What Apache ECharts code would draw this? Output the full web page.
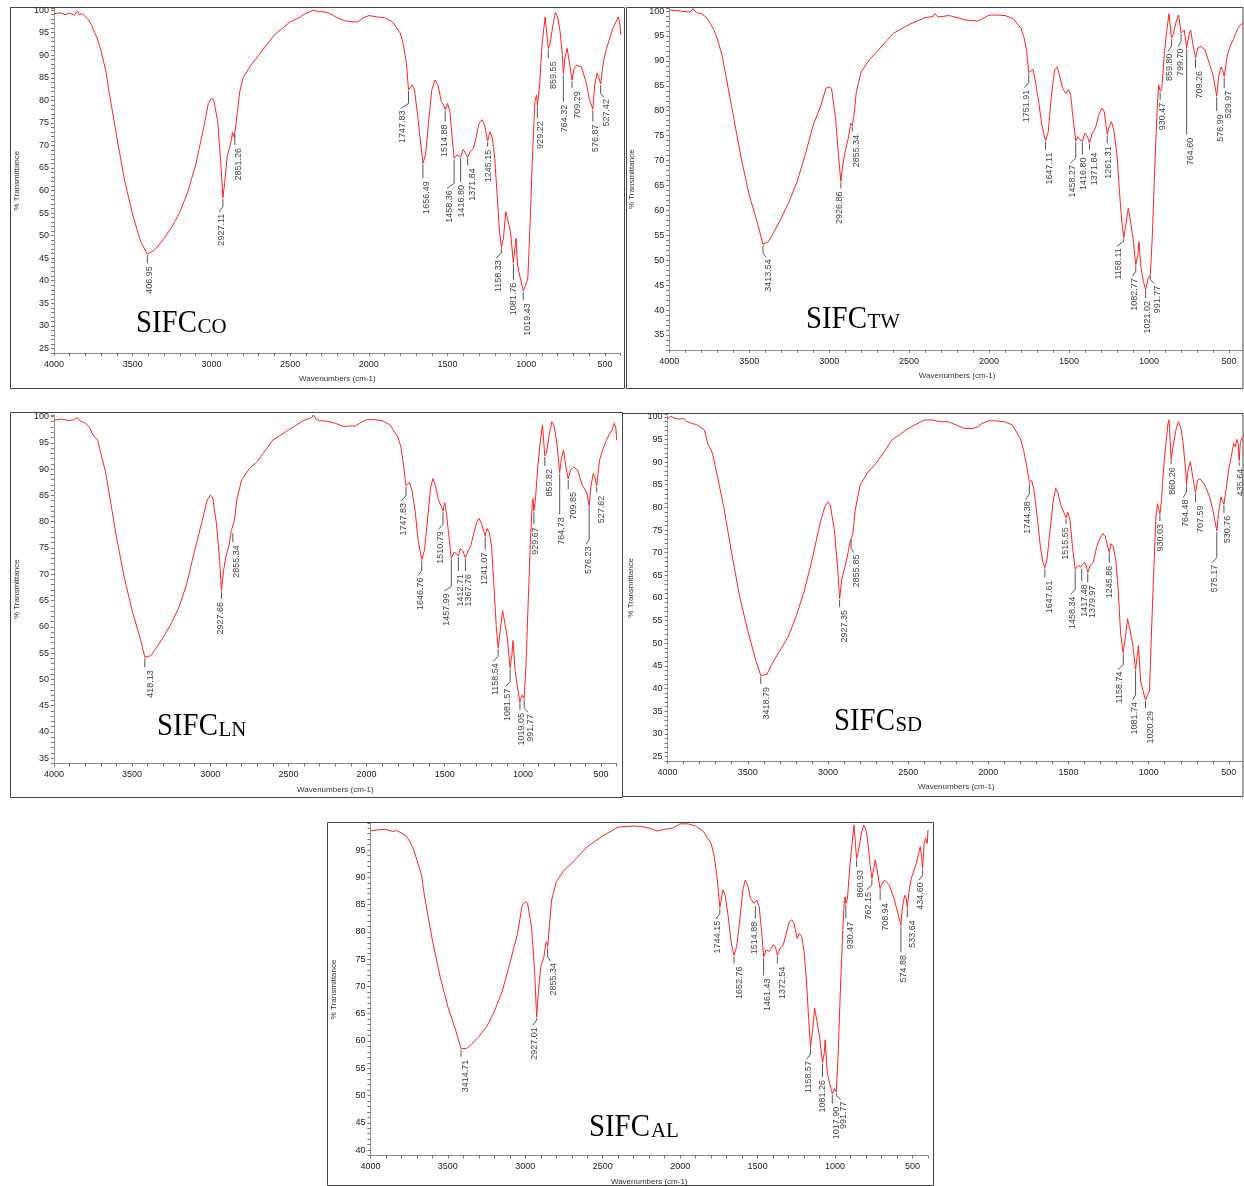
<!DOCTYPE html>
<html>
<head>
<meta charset="utf-8">
<script src="https://cdn.jsdelivr.net/npm/echarts@6.0.0/dist/echarts.min.js"></script>
<style>
  html, body { margin: 0; padding: 0; background: #fff; }
  #chart { width: 1244px; height: 1186px; }
</style>
</head>
<body>
<div id="chart"></div>
<script>
// FTIR spectra, pairs of [wavenumber (cm-1), % transmittance]
const coSpectrum = [[4000,99.2],[3960,99.4],[3930,99.0],[3900,99.3],[3870,98.9],[3850,99.8],[3840,99.0],[3820,99.2],[3800,98.5],[3780,97.8],[3760,96.6],[3750,95.6],[3730,94.2],[3700,90.8],[3670,86.4],[3650,81.9],[3600,71.6],[3550,62.0],[3500,54.6],[3450,48.7],[3407,45.9],[3370,46.6],[3350,47.2],[3300,49.4],[3250,52.0],[3200,55.3],[3150,59.7],[3100,65.7],[3050,73.8],[3020,79.3],[3000,80.4],[2985,80.1],[2960,75.3],[2940,65.7],[2927,58.4],[2915,62.0],[2900,67.5],[2880,70.1],[2865,72.9],[2855,71.8],[2845,74.5],[2820,81.9],[2800,84.9],[2750,87.8],[2700,90.0],[2600,94.5],[2500,97.4],[2450,98.2],[2400,99.3],[2350,100.0],[2340,100.4],[2320,99.6],[2300,99.7],[2250,99.3],[2200,98.3],[2150,97.6],[2100,97.4],[2070,97.4],[2040,98.2],[2000,98.8],[1950,98.5],[1900,98.3],[1850,97.4],[1800,94.9],[1780,92.3],[1760,87.8],[1748,82.3],[1740,82.6],[1725,83.4],[1710,82.3],[1690,76.7],[1670,70.1],[1656,66.0],[1640,67.9],[1620,75.3],[1600,82.3],[1580,84.5],[1560,83.4],[1540,79.7],[1525,79.0],[1515,77.9],[1500,79.3],[1485,77.5],[1470,71.6],[1458,67.1],[1440,67.9],[1417,67.5],[1400,69.1],[1385,68.2],[1372,67.4],[1355,68.6],[1335,69.4],[1320,71.6],[1300,74.9],[1280,75.7],[1265,74.5],[1245,71.0],[1230,73.0],[1215,71.6],[1200,67.1],[1185,59.0],[1170,50.9],[1158,47.4],[1145,49.4],[1130,55.3],[1120,55.0],[1100,50.9],[1082,44.0],[1070,47.9],[1065,49.4],[1055,43.5],[1040,40.9],[1019,37.7],[1005,39.0],[990,40.5],[975,53.1],[960,67.9],[945,79.7],[935,81.2],[929,78.8],[915,83.4],[900,92.3],[880,98.5],[870,98.9],[860,91.5],[850,92.3],[830,96.7],[815,99.5],[800,98.5],[785,95.2],[770,90.0],[764,85.8],[755,89.3],[740,91.5],[725,88.2],[709,84.5],[695,87.1],[680,87.8],[650,87.4],[620,84.1],[600,80.4],[590,80.4],[577,78.0],[565,83.4],[550,86.0],[540,85.2],[527,83.6],[510,88.6],[490,91.5],[470,93.7],[450,95.9],[430,97.4],[415,98.5],[405,96.9],[400,94.5]];
const twSpectrum = [[4000,100.2],[3950,100.1],[3900,99.9],[3870,99.8],[3850,100.5],[3830,99.7],[3800,99.5],[3770,98.8],[3750,97.9],[3720,96.2],[3700,94.5],[3670,91.2],[3650,87.8],[3600,79.1],[3550,70.5],[3500,63.1],[3450,57.7],[3414,53.2],[3380,53.7],[3350,55.4],[3300,58.4],[3250,61.8],[3200,65.8],[3150,71.1],[3100,77.1],[3050,81.2],[3020,84.5],[3000,84.8],[2985,84.5],[2960,78.5],[2940,70.5],[2927,65.8],[2915,69.1],[2900,71.8],[2880,74.5],[2865,77.5],[2855,77.0],[2845,79.1],[2830,83.8],[2800,87.8],[2750,90.2],[2700,91.9],[2600,95.5],[2500,97.3],[2400,98.7],[2350,98.9],[2340,99.5],[2320,98.8],[2300,98.9],[2250,99.1],[2200,98.7],[2150,98.2],[2100,98.1],[2070,98.0],[2040,98.5],[2000,99.2],[1950,99.2],[1900,99.1],[1850,98.5],[1800,96.5],[1780,94.5],[1765,91.9],[1752,87.6],[1740,88.0],[1725,88.3],[1710,85.8],[1690,81.8],[1670,77.1],[1647,73.9],[1630,75.8],[1610,83.2],[1590,88.2],[1575,88.8],[1560,87.2],[1540,84.5],[1520,83.5],[1505,84.2],[1490,83.2],[1475,78.5],[1458,73.9],[1445,74.8],[1430,74.1],[1417,73.9],[1400,75.5],[1385,74.8],[1372,73.5],[1355,75.5],[1335,76.5],[1315,79.1],[1295,80.5],[1280,79.8],[1261,75.2],[1250,76.8],[1235,77.8],[1220,76.1],[1200,71.1],[1185,63.8],[1170,57.7],[1158,54.5],[1145,57.1],[1130,60.4],[1115,57.7],[1100,54.4],[1083,49.1],[1070,51.0],[1063,53.7],[1050,48.4],[1035,45.7],[1021,44.1],[1005,46.4],[992,47.1],[980,54.4],[965,67.8],[950,79.8],[940,85.2],[930,83.9],[920,84.5],[905,91.2],[890,95.9],[875,99.5],[868,99.9],[860,94.6],[850,95.2],[830,97.9],[815,99.2],[800,95.6],[790,95.9],[780,96.2],[765,92.6],[750,95.2],[740,96.2],[725,93.2],[709,90.6],[695,92.6],[675,92.9],[650,92.2],[620,89.2],[600,87.2],[590,87.2],[577,82.9],[565,86.8],[550,88.8],[540,88.2],[530,86.9],[510,91.2],[490,93.2],[470,94.5],[450,96.2],[430,97.2],[415,97.5],[400,97.8]];
const lnSpectrum = [[4000,99.3],[3950,99.5],[3900,99.2],[3870,99.4],[3850,99.8],[3830,99.1],[3800,98.8],[3770,97.8],[3750,96.5],[3720,95.5],[3700,93.0],[3670,89.5],[3650,86.0],[3600,77.1],[3550,69.4],[3500,63.1],[3450,58.0],[3418,54.2],[3380,54.5],[3350,55.8],[3300,58.0],[3250,60.6],[3200,63.7],[3150,68.2],[3100,74.5],[3050,80.3],[3020,84.1],[3000,85.0],[2985,84.7],[2960,79.6],[2940,72.6],[2928,66.9],[2915,70.7],[2900,73.3],[2880,75.5],[2865,78.3],[2855,78.0],[2845,80.3],[2830,84.1],[2800,87.9],[2750,90.1],[2700,91.4],[2600,95.5],[2500,97.4],[2400,99.3],[2350,99.8],[2340,100.3],[2320,99.4],[2300,99.2],[2250,99.1],[2200,98.7],[2150,98.1],[2100,98.2],[2070,98.2],[2040,98.8],[2000,99.4],[1950,99.4],[1900,99.2],[1850,98.4],[1800,96.1],[1780,94.2],[1765,91.1],[1748,86.9],[1740,87.0],[1725,87.4],[1710,86.0],[1690,82.2],[1670,76.4],[1647,72.8],[1630,74.5],[1610,80.3],[1590,86.6],[1575,88.2],[1560,86.9],[1540,84.1],[1520,82.8],[1511,82.0],[1500,83.6],[1490,81.8],[1475,77.7],[1458,73.1],[1440,74.2],[1425,73.9],[1413,73.5],[1400,74.9],[1385,74.5],[1368,73.1],[1350,74.5],[1335,75.2],[1315,77.7],[1295,79.9],[1280,80.6],[1265,79.6],[1241,77.3],[1230,78.7],[1215,78.0],[1200,75.2],[1185,67.5],[1170,59.9],[1158,56.0],[1145,59.3],[1130,63.1],[1115,60.6],[1100,58.0],[1082,52.2],[1070,54.8],[1063,57.4],[1050,51.7],[1035,48.5],[1019,45.7],[1005,47.0],[992,46.4],[980,52.9],[965,65.6],[950,77.7],[940,83.4],[935,84.4],[930,82.0],[920,84.1],[905,90.4],[890,94.9],[875,98.4],[868,98.7],[860,92.5],[850,93.0],[830,96.8],[815,99.0],[800,98.1],[785,95.5],[770,91.1],[765,89.3],[755,91.7],[740,93.6],[725,90.4],[710,88.1],[695,89.8],[675,90.4],[650,89.8],[620,86.9],[600,86.0],[590,85.3],[576,83.0],[565,86.6],[550,89.2],[540,88.5],[528,86.8],[510,91.7],[490,93.6],[470,95.2],[450,96.5],[430,97.4],[415,98.7],[405,97.7],[400,95.5]];
const sdSpectrum = [[4000,99.6],[3980,100.1],[3960,99.7],[3950,100.0],[3930,99.5],[3900,99.6],[3880,99.0],[3850,98.5],[3820,98.3],[3800,97.8],[3770,97.1],[3750,94.1],[3720,91.9],[3700,88.6],[3680,85.3],[3650,80.1],[3600,69.8],[3550,60.2],[3500,52.8],[3450,46.2],[3419,42.9],[3400,43.0],[3380,43.2],[3350,45.4],[3300,48.4],[3250,51.3],[3200,55.8],[3150,61.3],[3100,68.3],[3050,76.4],[3020,80.1],[3000,81.2],[2985,80.5],[2960,74.9],[2940,66.8],[2927,59.8],[2915,63.9],[2900,66.1],[2880,69.0],[2865,72.0],[2855,73.1],[2845,74.2],[2830,79.4],[2800,84.9],[2750,87.8],[2700,89.7],[2600,94.9],[2500,97.4],[2400,99.3],[2350,99.3],[2300,98.9],[2250,98.9],[2200,98.2],[2150,97.4],[2100,97.4],[2070,97.7],[2040,98.5],[2000,99.1],[1950,99.1],[1900,98.9],[1850,98.2],[1800,95.2],[1780,92.6],[1760,89.0],[1744,85.5],[1730,86.0],[1715,83.8],[1695,77.9],[1675,71.2],[1660,67.9],[1648,66.7],[1635,68.3],[1615,74.9],[1595,81.6],[1580,84.2],[1565,83.1],[1545,80.1],[1525,78.6],[1515,77.7],[1505,79.0],[1490,77.1],[1475,71.2],[1458,66.3],[1440,67.2],[1425,66.8],[1417,66.7],[1400,67.9],[1390,67.2],[1380,65.6],[1365,67.2],[1345,67.9],[1325,71.2],[1305,73.1],[1285,74.2],[1270,73.5],[1246,70.0],[1235,72.0],[1220,71.2],[1205,68.3],[1190,61.7],[1175,52.1],[1159,47.9],[1145,51.3],[1132,55.4],[1118,53.2],[1100,49.9],[1082,44.2],[1070,47.6],[1064,49.5],[1050,41.7],[1035,39.5],[1020,37.5],[1005,38.8],[995,39.5],[985,49.9],[970,64.6],[955,77.9],[945,80.8],[938,81.2],[930,78.5],[920,81.6],[905,89.7],[890,94.9],[880,98.5],[873,99.3],[860,90.6],[850,93.0],[830,97.1],[815,98.9],[800,97.8],[785,94.1],[770,88.2],[764,85.1],[755,88.2],[740,90.1],[725,86.7],[708,83.3],[695,86.0],[680,86.4],[650,84.9],[620,82.3],[600,79.4],[590,79.7],[575,74.8],[565,78.6],[550,82.3],[540,82.7],[531,80.7],[515,84.5],[500,88.6],[485,91.2],[470,94.1],[460,93.4],[450,95.0],[442,94.0],[436,90.3],[428,94.5],[415,95.5],[400,96.0]];
const alSpectrum = [[4000,98.5],[3950,98.7],[3900,98.8],[3870,98.5],[3850,98.4],[3830,98.6],[3800,98.1],[3770,97.6],[3750,96.8],[3720,95.0],[3700,93.2],[3670,90.4],[3650,86.4],[3600,78.5],[3550,71.8],[3500,66.3],[3450,62.0],[3415,58.6],[3380,58.6],[3350,59.3],[3300,60.8],[3250,62.6],[3200,65.4],[3150,69.0],[3100,74.2],[3050,79.7],[3020,84.9],[3000,85.5],[2985,85.2],[2960,80.9],[2940,73.0],[2927,64.4],[2915,69.3],[2900,73.6],[2880,75.4],[2865,78.2],[2855,77.3],[2845,80.9],[2830,85.8],[2800,89.2],[2750,91.3],[2700,92.6],[2600,95.6],[2500,97.6],[2400,99.2],[2300,99.4],[2250,99.3],[2200,99.0],[2150,98.5],[2100,98.8],[2050,99.0],[2000,99.8],[1950,99.8],[1900,99.4],[1850,98.4],[1800,96.2],[1780,93.8],[1760,89.5],[1744,84.5],[1735,85.8],[1725,87.7],[1710,86.8],[1690,82.8],[1670,77.9],[1653,75.7],[1635,77.3],[1615,82.2],[1595,87.7],[1580,89.5],[1565,88.6],[1545,86.1],[1525,85.2],[1515,84.9],[1505,85.8],[1490,84.6],[1475,80.3],[1461,75.4],[1445,76.7],[1425,76.4],[1400,77.6],[1385,77.3],[1373,75.7],[1355,77.0],[1335,77.6],[1315,79.7],[1295,81.9],[1280,82.2],[1265,81.6],[1245,78.8],[1230,79.7],[1215,79.1],[1200,76.4],[1185,71.2],[1170,63.8],[1159,58.8],[1145,62.0],[1132,66.0],[1118,63.8],[1100,60.8],[1081,56.0],[1070,57.7],[1064,60.2],[1050,54.1],[1035,52.2],[1018,50.3],[1005,51.3],[992,50.6],[980,57.7],[965,69.9],[950,80.3],[940,85.8],[935,86.4],[930,85.2],[920,86.1],[905,91.9],[890,96.2],[878,99.6],[870,99.3],[861,93.4],[850,94.7],[830,98.1],[815,99.6],[800,98.7],[785,95.6],[770,91.3],[762,89.8],[752,91.3],[740,93.2],[725,90.7],[709,87.9],[695,88.9],[680,89.5],[650,88.6],[620,86.1],[605,84.6],[595,84.9],[575,81.2],[565,84.6],[550,86.7],[540,86.1],[534,84.5],[520,88.0],[505,90.1],[490,91.3],[475,92.6],[460,94.4],[450,95.6],[442,93.8],[435,91.6],[425,96.2],[415,97.1],[405,96.2],[400,98.7]];

// labelled bands: [label, wavenumber, %T at the band]
const coPeaks = [['406.95',3406.95,45.9],['2927.11',2927.11,58.4],['2851.26',2851.26,72.7],['1747.83',1747.83,82.3],['1656.49',1656.49,66.0],['1514.88',1514.88,77.9],['1458.36',1458.36,67.1],['1416.80',1416.80,67.5],['1371.84',1371.84,67.5],['1245.15',1245.15,71.0],['1158.33',1158.33,47.4],['1081.76',1081.76,44.0],['1019.43',1019.43,37.7],['929.22',929.22,78.8],['859.55',859.55,91.5],['764.32',764.32,85.8],['709.29',709.29,84.5],['576.87',576.87,78.0],['527.42',527.42,83.6]];
const twPeaks = [['3413.54',3413.54,53.2],['2926.86',2926.86,65.8],['2855.34',2855.34,77.0],['1751.91',1751.91,87.6],['1647.11',1647.11,73.9],['1458.27',1458.27,73.9],['1416.80',1416.80,73.9],['1371.84',1371.84,73.5],['1261.31',1261.31,75.2],['1158.11',1158.11,54.5],['1082.77',1082.77,49.1],['1021.02',1021.02,44.1],['991.77',991.77,47.1],['930.47',930.47,83.9],['859.80',859.80,94.6],['799.70',799.70,95.6],['764.60',764.60,92.6],['709.26',709.26,90.6],['576.99',576.99,82.9],['529.97',529.97,86.9]];
const lnPeaks = [['418.13',3418.13,54.2],['2927.66',2927.66,66.9],['2855.34',2855.34,78.0],['1747.83',1747.83,86.9],['1646.76',1646.76,72.8],['1510.79',1510.79,82.0],['1457.99',1457.99,73.1],['1412.71',1412.71,73.5],['1367.76',1367.76,73.1],['1241.07',1241.07,77.3],['1158.54',1158.54,56.0],['1081.57',1081.57,52.2],['1019.05',1019.05,45.8],['991.77',991.77,46.4],['929.67',929.67,82.0],['859.82',859.82,92.5],['764.73',764.73,89.3],['709.85',709.85,88.1],['576.23',576.23,83.0],['527.62',527.62,86.8]];
const sdPeaks = [['3418.79',3418.79,42.9],['2927.35',2927.35,59.8],['2855.85',2855.85,73.1],['1744.38',1744.38,85.5],['1647.61',1647.61,66.7],['1515.55',1515.55,77.7],['1458.34',1458.34,66.3],['1417.48',1417.48,66.7],['1379.97',1379.97,65.6],['1245.86',1245.86,70.0],['1158.74',1158.74,47.9],['1081.74',1081.74,44.2],['1020.29',1020.29,37.5],['930.03',930.03,78.5],['860.26',860.26,90.6],['764.48',764.48,85.1],['707.59',707.59,83.3],['575.17',575.17,74.8],['530.76',530.76,80.7],['435.64',435.64,90.3]];
const alPeaks = [['3414.71',3414.71,58.6],['2927.01',2927.01,64.4],['2855.34',2855.34,77.3],['1744.15',1744.15,84.5],['1652.76',1652.76,75.7],['1514.88',1514.88,84.9],['1461.43',1461.43,75.4],['1372.54',1372.54,75.7],['1158.57',1158.57,58.8],['1081.26',1081.26,56.0],['1017.90',1017.90,50.3],['991.77',991.77,50.6],['930.47',930.47,85.2],['860.93',860.93,93.4],['762.15',762.15,89.8],['708.94',708.94,87.9],['574.88',574.88,81.2],['533.64',533.64,84.5],['434.60',434.60,91.6]];

// leader lines: [%T where the leader ends, wavenumber under which the label sits]
const coLeaders = [[43.9,3394],[56.4,2937],[70.1,2829],[79.3,1784],[62.7,1631],[75.3,1521],[61.6,1490],[61.9,1410],[65.6,1344],[69.7,1241],[46.1,1179],[40.2,1082],[35.7,992],[76.0,912],[89.3,825],[79.7,756],[82.7,677],[75.3,558],[81.6,491]];
const twLeaders = [[51.4,3376],[64.4,2933],[75.8,2826],[85.6,1769],[72.2,1620],[70.5,1479],[71.2,1410],[72.2,1341],[73.5,1251],[53.8,1189],[47.8,1091],[42.4,1010],[46.1,950],[82.2,914],[92.9,870],[93.9,806],[75.2,738],[88.6,682],[79.9,556],[84.6,503]];
const lnLeaders = [[52.3,3385],[65.3,2933],[76.1,2830],[84.9,1765],[70.7,1658],[79.5,1526],[67.7,1490],[70.6,1398],[70.6,1346],[74.7,1245],[54.4,1176],[49.6,1097],[44.2,1008],[44.5,949],[79.5,919],[90.6,828],[81.4,750],[86.2,678],[76.6,583],[85.5,500]];
const sdLeaders = [[41.0,3386],[58.0,2897],[70.9,2821],[82.9,1755],[64.5,1616],[76.3,1520],[61.9,1475],[63.7,1403],[63.4,1351],[67.8,1246],[45.3,1179],[38.6,1088],[35.7,989],[77.0,924],[89.5,850],[83.3,773],[81.1,678],[68.9,592],[78.8,510],[89.2,429]];
const alLeaders = [[57.1,3385],[63.8,2939],[75.4,2818],[83.3,1757],[74.2,1620],[82.4,1521],[72.0,1436],[74.2,1340],[57.6,1169],[53.4,1081],[48.5,992],[50.0,945],[82.4,898],[91.9,833],[88.6,784],[85.8,677],[76.3,558],[82.7,501],[90.4,446]];

const sampleCodes = ['CO', 'TW', 'LN', 'SD', 'AL'];

// panel layout (pixels) and axis ranges
const panels = [
  { spec: coSpectrum, peaks: coPeaks, leads: coLeaders, left: 54, top: 8.3, width: 566.7, height: 344.6, ymin: 24, ymax: 100.4,
    frame: [10.5, 7.5, 614, 381], title: [136, 334.3, 197.5] },
  { spec: twSpectrum, peaks: twPeaks, leads: twLeaders, left: 669.2, top: 8.6, width: 575.8, height: 341.3, ymin: 32, ymax: 100.5,
    frame: [626.5, 7.5, 616.5, 381], title: [806, 330, 867.5] },
  { spec: lnSpectrum, peaks: lnPeaks, leads: lnLeaders, left: 53.9, top: 414.9, width: 562.8, height: 348.6, ymin: 34, ymax: 100.3,
    frame: [10.5, 412.5, 612, 385], title: [157, 737.5, 218.5] },
  { spec: sdSpectrum, peaks: sdPeaks, leads: sdLeaders, left: 667.6, top: 414.5, width: 577.3, height: 346.6, ymin: 24, ymax: 100.5,
    frame: [622.5, 413.5, 620.5, 383], title: [834, 732.5, 895.5] },
  { spec: alSpectrum, peaks: alPeaks, leads: alLeaders, left: 370.4, top: 823.3, width: 557.6, height: 332.2, ymin: 39, ymax: 99.9,
    frame: [327.5, 822.5, 606, 363], title: [589, 1138.3, 651] }
];

const sans = 'Liberation Sans';

// leader line + rotated band label
function peakMarks(peaks) {
  return function (params, api) {
    const p = api.coord([api.value(0), api.value(1)]);
    const e = api.coord([api.value(0), api.value(2)]);
    const lx = api.coord([api.value(3), api.value(2)])[0];
    let pts, ty;
    if (lx < p[0] - 1) {
      pts = [[p[0], p[1] + 1], [p[0], e[1]], [lx - 2, e[1] + 5]];
      ty = e[1] + 7;
    } else if (lx > p[0] + 5.5) {
      pts = [[p[0], p[1] + 1], [p[0], e[1]], [lx - 3, e[1] + 4]];
      ty = e[1] + 6;
    } else {
      pts = [[p[0], p[1] + 1], [p[0], e[1]]];
      ty = e[1] + 3;
    }
    return {
      type: 'group',
      children: [
        { type: 'polyline', shape: { points: pts }, style: { stroke: '#555', lineWidth: 1, fill: null } },
        { type: 'text', x: lx, y: ty, rotation: Math.PI / 2,
          style: { text: peaks[params.dataIndex][0], align: 'right', verticalAlign: 'middle',
                   fontSize: 9, fontFamily: sans, fill: '#444' } }
      ]
    };
  };
}

const grids = [], xAxes = [], yAxes = [], series = [], graphics = [];

panels.forEach((pn, i) => {
  grids.push({ left: pn.left, top: pn.top, width: pn.width, height: pn.height,
               containLabel: false, outerBoundsMode: 'none' });
  xAxes.push({
    type: 'value', gridIndex: i, inverse: true, min: 400, max: 4000, interval: 100,
    name: 'Wavenumbers (cm-1)', nameLocation: 'middle', nameGap: 22,
    nameTextStyle: { fontSize: 8, fontFamily: sans, color: '#333' },
    axisLine: { lineStyle: { color: '#888', width: 1 } },
    axisTick: { length: 3, lineStyle: { color: '#777' } },
    axisLabel: { fontSize: 9, fontFamily: sans, color: '#222', margin: 7,
                 formatter: v => (v % 500 === 0 ? String(v) : '') },
    splitLine: { show: false }
  });
  yAxes.push({
    type: 'value', gridIndex: i, min: pn.ymin, max: pn.ymax, interval: 1,
    name: '% Transmittance', nameLocation: 'middle', nameGap: 33,
    nameTextStyle: { fontSize: 8, fontFamily: sans, color: '#333' },
    axisLine: { show: true, lineStyle: { color: '#888', width: 1, type: 'dotted' } },
    axisTick: { show: true, length: 3, lineStyle: { color: '#777' } },
    axisLabel: { fontSize: 9, fontFamily: sans, color: '#222', margin: 5,
                 formatter: v => (Math.abs(v % 5) < 1e-6 ? String(Math.round(v)) : '') },
    splitLine: { show: false }
  });
  series.push({
    type: 'line', xAxisIndex: i, yAxisIndex: i, data: pn.spec,
    showSymbol: false, symbol: 'none', clip: true, z: 3,
    lineStyle: { color: '#f22', width: 1 }
  });
  series.push({
    type: 'custom', xAxisIndex: i, yAxisIndex: i, clip: true, z: 2,
    data: pn.peaks.map((pk, j) => [pk[1], pk[2], pn.leads[j][0], pn.leads[j][1]]),
    renderItem: peakMarks(pn.peaks)
  });
  const f = pn.frame;
  graphics.push({ type: 'rect', shape: { x: f[0], y: f[1], width: f[2], height: f[3] },
                  style: { fill: null, stroke: '#444', lineWidth: 1 }, silent: true });
  const t = pn.title;
  // sample name: "SIFC" followed by the smaller sample code on the same baseline
  graphics.push({ type: 'text', x: t[0], y: t[1] - 10.8, scaleX: 0.9,
                  style: { text: 'SIFC', fontSize: 32, fontFamily: 'Liberation Serif', fill: '#000',
                           align: 'left', verticalAlign: 'middle' } });
  graphics.push({ type: 'text', x: t[2], y: t[1] - 7.4, scaleX: 0.95,
                  style: { text: sampleCodes[i], fontSize: 22, fontFamily: 'Liberation Serif', fill: '#000',
                           align: 'left', verticalAlign: 'middle' } });
});

const chart = echarts.init(document.getElementById('chart'), null, { renderer: 'canvas' });
chart.setOption({
  animation: false,
  backgroundColor: '#fff',
  grid: grids,
  xAxis: xAxes,
  yAxis: yAxes,
  series: series,
  graphic: { elements: graphics }
});
</script>
</body>
</html>
